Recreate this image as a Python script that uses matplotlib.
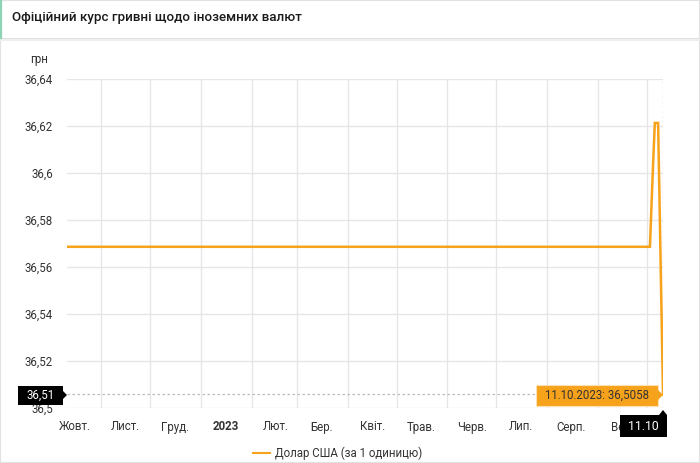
import matplotlib
matplotlib.use("Agg")
import matplotlib.pyplot as plt
from matplotlib.patches import Rectangle, Polygon
from matplotlib.lines import Line2D
import pandas as pd

plt.rcParams['font.family'] = ['Roboto', 'DejaVu Sans']

title = "Офіційний курс гривні щодо іноземних валют"
series_name = "Долар США (за 1 одиницю)"
dates = ["2022-10-11", "2023-10-03", "2023-10-04", "2023-10-05", "2023-10-06",
         "2023-10-07", "2023-10-08", "2023-10-09", "2023-10-10", "2023-10-11"]
values = [36.5686, 36.5686, 36.5870, 36.6050, 36.6213,
          36.6213, 36.6213, 36.5830, 36.5440, 36.5058]
month_labels = ["Жовт.", "Лист.", "Груд.", "2023", "Лют.", "Бер.", "Квіт.",
                "Трав.", "Черв.", "Лип.", "Серп.", "Вер."]
y_ticks = [36.5, 36.52, 36.54, 36.56, 36.58, 36.6, 36.62, 36.64]
y_unit = "грн"
tip_left = "36,51"
tip_value = "11.10.2023: 36,5058"
tip_date = "11.10"

W, H = 700, 463
fig = plt.figure(figsize=(W / 100, H / 100), dpi=100)
fig.patch.set_facecolor("white")

def fx(px):
    return px / W

def fy(py):
    return 1 - py / H

# card borders / header
fig.add_artist(Rectangle((0, 0), 1, 1, transform=fig.transFigure, fill=False,
                         edgecolor="#e2e2e2", lw=1.5))
fig.add_artist(Line2D([0, 1], [fy(38.5), fy(38.5)], transform=fig.transFigure,
                      color="#dcdcdc", lw=1.2))
fig.add_artist(Line2D([0, 1], [fy(40), fy(40)], transform=fig.transFigure,
                      color="#efefef", lw=1.5))
fig.add_artist(Line2D([fx(1), fx(1)], [fy(0), fy(38)], transform=fig.transFigure,
                      color="#8ed3b4", lw=1.6))
fig.text(fx(12), fy(18), title, fontsize=9.6, fontweight="medium", color="#1a1a1a",
         va="center", ha="left")

# axes
ax = fig.add_axes([fx(67), fy(408), fx(663) - fx(67), fy(79) - fy(408)])
x = pd.to_datetime(dates)
ax.plot(x, values, color="#f7a21b", lw=1.8, solid_joinstyle="miter", zorder=3)

xmin = pd.Timestamp("2022-10-11")
xmax = pd.Timestamp("2023-10-11")
ax.set_xlim(xmin, xmax)
ax.set_ylim(36.5, 36.64)

month_starts = pd.date_range("2022-11-01", "2023-10-01", freq="MS")
ax.set_xticks(month_starts)
ax.set_xticklabels([])
ax.tick_params(axis="x", which="major", length=0)
mids = pd.date_range("2022-10-01", "2023-09-01", freq="MS") + pd.Timedelta(days=15)
ax.set_xticks(mids, minor=True)
ax.set_xticklabels(month_labels, minor=True)
ax.tick_params(axis="x", which="minor", length=0, pad=9, labelsize=8.3,
               labelcolor="#333333")
for lbl in ax.get_xticklabels(minor=True):
    if lbl.get_text() == "2023":
        lbl.set_fontweight("bold")

ax.set_yticks(y_ticks)
ax.set_yticklabels([f"{v:g}".replace(".", ",") for v in y_ticks])
ax.tick_params(axis="y", length=0, pad=10, labelsize=8.3, labelcolor="#333333")
ax.grid(True, which="major", color="#e6e6e6", lw=1)
for s in ax.spines.values():
    s.set_visible(False)
ax.set_axisbelow(True)

# crosshair
last_x = x[-1]
last_y = values[-1]
ax.axhline(last_y, color="#bbbbbb", lw=0.9, ls=(0, (2, 2)), zorder=2)
ax.axvline(last_x, color="#bbbbbb", lw=0.9, ls=(0, (2, 2)), zorder=2)

fig.text(fx(30), fy(60), y_unit, fontsize=8.3, color="#333333", va="center", ha="left")

# left black label
fig.add_artist(Rectangle((fx(18), fy(405)), fx(63) - fx(18), fy(386) - fy(405),
                         transform=fig.transFigure, facecolor="black", edgecolor="none", zorder=10))
fig.add_artist(Polygon([[fx(63), fy(391)], [fx(67), fy(395)], [fx(63), fy(399)]],
                       closed=True, transform=fig.transFigure, facecolor="black",
                       edgecolor="none", zorder=10))
fig.text(fx(40.5), fy(395.5), tip_left, fontsize=8.3, color="white", ha="center",
         va="center", zorder=11)

# orange tooltip
fig.add_artist(Rectangle((fx(536), fy(406)), fx(658) - fx(536), fy(385) - fy(406),
                         transform=fig.transFigure, facecolor="#f7a21b", edgecolor="#fbe1b4",
                         lw=0.8, zorder=10))
fig.add_artist(Polygon([[fx(658), fy(390)], [fx(663), fy(395)], [fx(658), fy(400)]],
                       closed=True, transform=fig.transFigure, facecolor="#f7a21b",
                       edgecolor="none", zorder=10))
fig.text(fx(597), fy(395.5), tip_value, fontsize=8.3, color="#333333", ha="center",
         va="center", zorder=11)

# bottom black date label
fig.add_artist(Rectangle((fx(620), fy(437)), fx(667) - fx(620), fy(415) - fy(437),
                         transform=fig.transFigure, facecolor="black", edgecolor="none", zorder=10))
fig.add_artist(Polygon([[fx(659), fy(415)], [fx(663), fy(410)], [fx(667), fy(415)]],
                       closed=True, transform=fig.transFigure, facecolor="black",
                       edgecolor="none", zorder=10))
fig.text(fx(643.5), fy(426.5), tip_date, fontsize=8.8, color="white", ha="center",
         va="center", zorder=11)

# legend
fig.add_artist(Line2D([fx(253), fx(270)], [fy(453), fy(453)], transform=fig.transFigure,
                      color="#f7a21b", lw=1.5))
fig.text(fx(275), fy(453.5), series_name, fontsize=8.3, color="#333333", ha="left",
         va="center")

fig.savefig("out.png", dpi=100)
